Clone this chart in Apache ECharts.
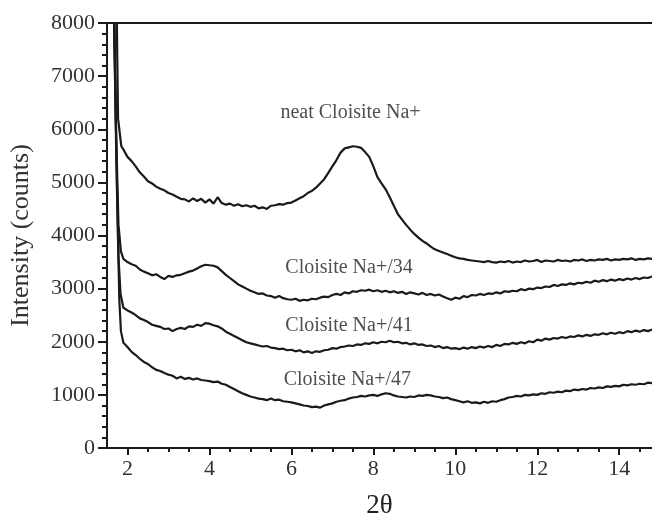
<!DOCTYPE html>
<html>
<head>
<meta charset="utf-8">
<script src="https://cdn.jsdelivr.net/npm/echarts@6/dist/echarts.min.js"></script>
<style>html,body{margin:0;padding:0;background:#fff}#c{width:652px;height:515px}</style>
</head>
<body>
<div id="c"></div>
<script>
// shared 2θ grid (degrees)
var twoTheta = [1.9,2.0,2.1,2.2,2.3,2.4,2.5,2.6,2.7,2.8,2.9,3.0,3.1,3.2,3.3,3.4,3.5,3.6,3.7,3.8,3.9,
4.0,4.1,4.2,4.3,4.4,4.5,4.6,4.7,4.8,4.9,5.0,5.1,5.2,5.3,5.4,5.5,5.6,5.7,5.8,5.9,
6.0,6.1,6.2,6.3,6.4,6.5,6.6,6.7,6.8,6.9,7.0,7.1,7.2,7.3,7.4,7.5,7.6,7.7,7.8,7.9,
8.0,8.1,8.2,8.3,8.4,8.5,8.6,8.7,8.8,8.9,9.0,9.1,9.2,9.3,9.4,9.5,9.6,9.7,9.8,9.9,
10.0,10.1,10.2,10.3,10.4,10.5,10.6,10.7,10.8,10.9,11.0,11.1,11.2,11.3,11.4,11.5,11.6,11.7,11.8,11.9,
12.0,12.1,12.2,12.3,12.4,12.5,12.6,12.7,12.8,12.9,13.0,13.1,13.2,13.3,13.4,13.5,13.6,13.7,13.8,13.9,
14.0,14.1,14.2,14.3,14.4,14.5,14.6,14.7,14.8];

var neat = [5620,5480,5400,5300,5190,5110,5020,4980,4920,4880,4850,4800,4770,4730,4690,4680,4640,4700,4650,4690,4620,
4680,4600,4720,4610,4580,4600,4560,4590,4550,4570,4540,4560,4510,4530,4500,4560,4570,4590,4580,4610,
4620,4660,4700,4740,4800,4840,4900,4980,5060,5180,5300,5420,5560,5640,5660,5680,5670,5650,5570,5480,
5300,5100,4980,4870,4720,4560,4400,4300,4200,4110,4030,3960,3900,3850,3790,3740,3710,3680,3650,3620,
3590,3570,3560,3540,3530,3520,3510,3500,3520,3500,3490,3510,3500,3520,3490,3510,3500,3530,3510,3520,
3540,3500,3530,3520,3510,3540,3520,3530,3510,3540,3530,3550,3520,3540,3530,3550,3540,3560,3530,3550,
3540,3560,3550,3570,3540,3560,3550,3570,3560];

var na34 = [3560,3500,3460,3430,3360,3320,3290,3250,3270,3220,3180,3240,3220,3250,3260,3290,3320,3340,3380,3420,3450,
3440,3430,3400,3330,3260,3200,3140,3080,3040,3000,2960,2930,2900,2910,2870,2860,2830,2860,2820,2800,
2790,2810,2770,2790,2780,2810,2800,2830,2850,2840,2880,2900,2880,2930,2910,2950,2940,2970,2960,2980,
2950,2970,2940,2960,2930,2950,2920,2940,2900,2930,2910,2890,2920,2880,2900,2870,2890,2850,2820,2790,
2830,2810,2860,2840,2880,2870,2900,2880,2910,2900,2930,2910,2950,2940,2960,2950,2990,2970,3000,2990,
3020,3010,3040,3030,3070,3050,3080,3070,3100,3080,3110,3100,3130,3110,3150,3130,3160,3140,3170,3150,
3180,3160,3190,3170,3200,3180,3210,3200,3230];

var na41 = [2640,2590,2550,2500,2440,2410,2370,2320,2300,2280,2240,2250,2200,2240,2260,2240,2290,2280,2320,2300,2350,
2340,2310,2290,2250,2190,2150,2110,2070,2030,1990,1970,1950,1930,1910,1920,1890,1880,1860,1870,1840,
1850,1820,1840,1800,1820,1790,1820,1810,1840,1850,1880,1870,1900,1910,1930,1920,1950,1940,1970,1960,
1990,1970,2000,1990,2020,1990,2000,1970,1980,1950,1970,1940,1950,1920,1930,1900,1920,1880,1900,1870,
1880,1860,1890,1870,1900,1880,1910,1890,1920,1900,1940,1920,1960,1950,1980,1960,1990,1970,2010,1990,
2040,2020,2060,2040,2070,2060,2090,2070,2100,2090,2120,2100,2130,2110,2140,2130,2160,2140,2170,2150,
2180,2160,2200,2180,2210,2190,2220,2200,2230];

var na47 = [1980,1900,1810,1750,1680,1620,1580,1520,1470,1450,1410,1380,1360,1310,1340,1300,1320,1290,1310,1280,1270,
1260,1240,1250,1210,1190,1150,1110,1070,1030,1000,970,950,930,920,900,930,900,910,880,870,
860,840,820,800,790,770,780,760,800,820,840,870,890,900,930,950,960,980,970,990,
1000,980,1010,1030,1020,990,970,960,950,970,960,990,980,1000,990,970,960,940,950,920,
900,880,860,880,850,860,840,870,850,880,870,900,920,950,960,980,970,1000,990,1010,
1000,1030,1020,1050,1040,1060,1050,1080,1070,1100,1090,1110,1100,1130,1120,1140,1130,1160,1150,1170,
1160,1190,1180,1200,1190,1210,1200,1230,1220];

// steep low-angle rise (2θ, counts) preceding each curve
var riseNeat = [[1.73,8600],[1.77,6200],[1.85,5680]];
var rise34 = [[1.66,8600],[1.72,6000],[1.78,4200],[1.84,3700]];
var rise41 = [[1.66,8600],[1.72,5800],[1.78,3600],[1.83,2900]];
var rise47 = [[1.67,8600],[1.74,5000],[1.80,2800],[1.84,2200]];

var curveLabels = ['neat Cloisite Na+','Cloisite Na+/34','Cloisite Na+/41','Cloisite Na+/47'];
var labelX = [5.72,5.84,5.84,5.80];
var labelY = [6305,3388,2296,1280];

var xTicks = [2,4,6,8,10,12,14];
var xMinorTicks = [2.5,3,3.5,4.5,5,5.5,6.5,7,7.5,8.5,9,9.5,10.5,11,11.5,12.5,13,13.5,14.5];

function build(rise, vals){
  var out = rise.slice();
  for (var i=0;i<twoTheta.length;i++) out.push([twoTheta[i], vals[i]]);
  return out;
}

var FONT = 'Liberation Serif';
var INK = '#1a1a1a';
var chart = echarts.init(document.getElementById('c'), null, {renderer:'canvas'});
var lineSeries = function(name, data){
  return {name:name, type:'line', xAxisIndex:0, yAxisIndex:0, data:data, showSymbol:false,
    clip:true, silent:true, animation:false,
    lineStyle:{color:INK, width:2.2}};
};
chart.setOption({
  animation:false,
  backgroundColor:'#fff',
  grid:{left:107, right:0, top:23, bottom:67, containLabel:false, outerBoundsMode:'none'},
  xAxis:[
    {type:'value', position:'bottom', min:1.5, max:14.8,
      name:'2θ', nameLocation:'middle', nameGap:44,
      nameTextStyle:{fontFamily:FONT, fontSize:27, color:'#222'},
      axisLine:{show:true, onZero:false, lineStyle:{color:INK, width:2}},
      axisTick:{show:true, inside:false, length:7, customValues:xTicks, lineStyle:{color:INK, width:2}},
      axisLabel:{show:true, customValues:xTicks, margin:10, fontFamily:FONT, fontSize:22, color:'#333'},
      splitLine:{show:false}},
    {type:'value', position:'bottom', min:1.5, max:14.8,
      axisLine:{show:false, onZero:false},
      axisTick:{show:true, inside:false, length:4, customValues:xMinorTicks, lineStyle:{color:INK, width:2}},
      axisLabel:{show:false}, splitLine:{show:false}},
    {type:'value', position:'top', min:1.5, max:14.8,
      axisLine:{show:true, onZero:false, lineStyle:{color:INK, width:2}},
      axisTick:{show:false}, axisLabel:{show:false}, splitLine:{show:false}}
  ],
  yAxis:[{type:'value', min:0, max:8000, interval:1000,
    name:'Intensity (counts)', nameLocation:'middle', nameGap:73,
    nameTextStyle:{fontFamily:FONT, fontSize:26, color:'#333'},
    axisLine:{show:true, onZero:false, lineStyle:{color:INK, width:2}},
    axisTick:{show:true, inside:false, length:9, lineStyle:{color:INK, width:2}},
    minorTick:{show:true, splitNumber:5, length:5, lineStyle:{color:INK, width:2}},
    axisLabel:{margin:12, fontFamily:FONT, fontSize:22, color:'#333',
      formatter:function(v){return String(v);}},
    splitLine:{show:false}}],
  series:[
    lineSeries(curveLabels[0], build(riseNeat, neat)),
    lineSeries(curveLabels[1], build(rise34, na34)),
    lineSeries(curveLabels[2], build(rise41, na41)),
    lineSeries(curveLabels[3], build(rise47, na47)),
    {type:'scatter', xAxisIndex:0, yAxisIndex:0, symbolSize:1, silent:true,
      itemStyle:{color:'rgba(0,0,0,0)'},
      data: curveLabels.map(function(t,i){return {value:[labelX[i], labelY[i]], name:t};}),
      label:{show:true, position:'right', distance:0, formatter:'{b}',
        fontFamily:FONT, fontSize:20, color:'#222'}}
  ]
});
</script>
</body>
</html>
